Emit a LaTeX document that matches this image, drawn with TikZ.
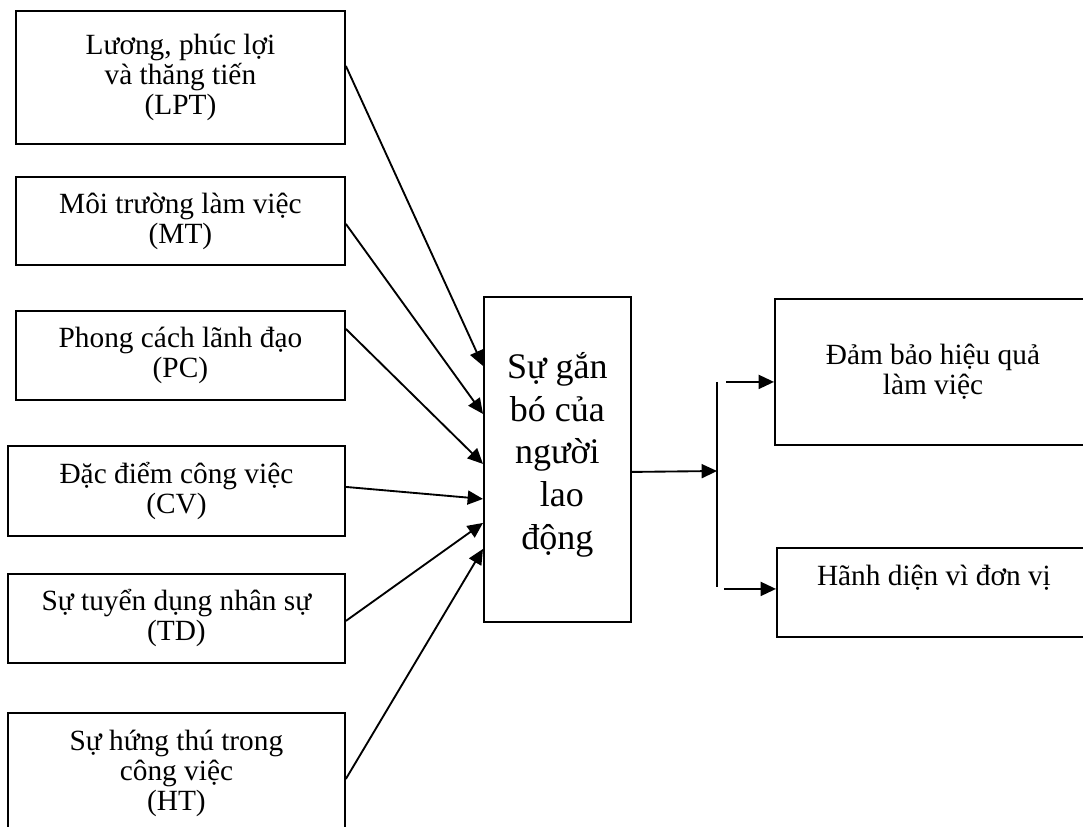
\documentclass[tikz,border=0pt]{standalone}
\usepackage{fontspec}
\setmainfont{Liberation Serif}
\usetikzlibrary{arrows.meta,calc}
\tikzset{>={Triangle[length=11.5pt,width=10.5pt]}}
\tikzset{
  box/.style={draw, line width=1.4pt, inner sep=0pt, align=center,
    font=\fontsize{22}{22.5}\selectfont},
  size/.style 2 args={minimum width=#1*0.75pt, minimum height=#2*0.75pt},
  link/.style={->, line width=1.4pt},
}

\begin{document}
\begin{tikzpicture}[x=0.75pt, y=-0.75pt]
  \useasboundingbox (0,0) rectangle (1083,827);
  \clip (0,0) rectangle (1083,827);

  % factors
  \node[box, size={329}{133}, anchor=north west] (LPT) at (15,10) {Lương, phúc lợi\\và thăng tiến\\(LPT)};
  \node[box, size={329}{88}, anchor=north west] (MT) at (15,176) {Môi trường làm việc\\(MT)};
  \node[box, size={329}{89}, anchor=north west] (PC) at (15,310) {Phong cách lãnh đạo\\(PC)};
  \node[box, size={337}{90}, anchor=north west] (CV) at (7,445) {Đặc điểm công việc\\(CV)};
  \node[box, size={337}{89}, anchor=north west] (TD) at (7,573) {Sự tuyển dụng nhân sự\\(TD)};
  \node[box, size={337}{120}, anchor=north west] (HT) at (7,712) {Sự hứng thú trong\\công việc\\(HT)};

  \node[box, size={147}{325}, anchor=north west, text depth=13pt,
    font=\fontsize{27}{32}\selectfont] (SG) at (483,296)
    {Sự gắn\\bó của\\người\\\hspace*{0.25em}lao\\động};

  % outcomes
  \node[box, size={316}{146}, anchor=north west] (DB) at (774,298) {Đảm bảo hiệu quả\\làm việc};
  \node[box, size={314}{89}, anchor=north west, text height=14pt, text depth=24pt] (HD) at (776,547) {Hãnh diện vì đơn vị};

  \draw[link] ($(LPT.east)+(0,-11.5)$) -- ($(SG.west)+(0,-93.5)$);
  \draw[link] ($(MT.east)+(0,3)$) -- ($(SG.west)+(0,-45.5)$);
  \draw[link] ($(PC.east)+(0,-26.5)$) -- ($(SG.west)+(0,4.5)$);
  \draw[link] ($(CV.east)+(0,-4)$) -- ($(SG.west)+(0,39.5)$);
  \draw[link] ($(TD.east)+(0,2.5)$) -- ($(SG.west)+(0,63.5)$);
  \draw[link] ($(HT.east)+(0,6)$) -- ($(SG.west)+(0,89.5)$);

  \coordinate (fork) at (717,471);
  \coordinate (forktop) at (717,382);
  \coordinate (forkbot) at (717,587);
  \draw[link] ($(SG.east)+(0,12.5)$) -- (fork);
  \draw[line width=1.4pt] (forktop) -- (forkbot);
  \draw[link] ($(DB.west)+(-48,10)$) -- ($(DB.west)+(0,10)$);
  \draw[link] ($(HD.west)+(-52,-3.5)$) -- ($(HD.west)+(0,-3.5)$);
\end{tikzpicture}
\end{document}
